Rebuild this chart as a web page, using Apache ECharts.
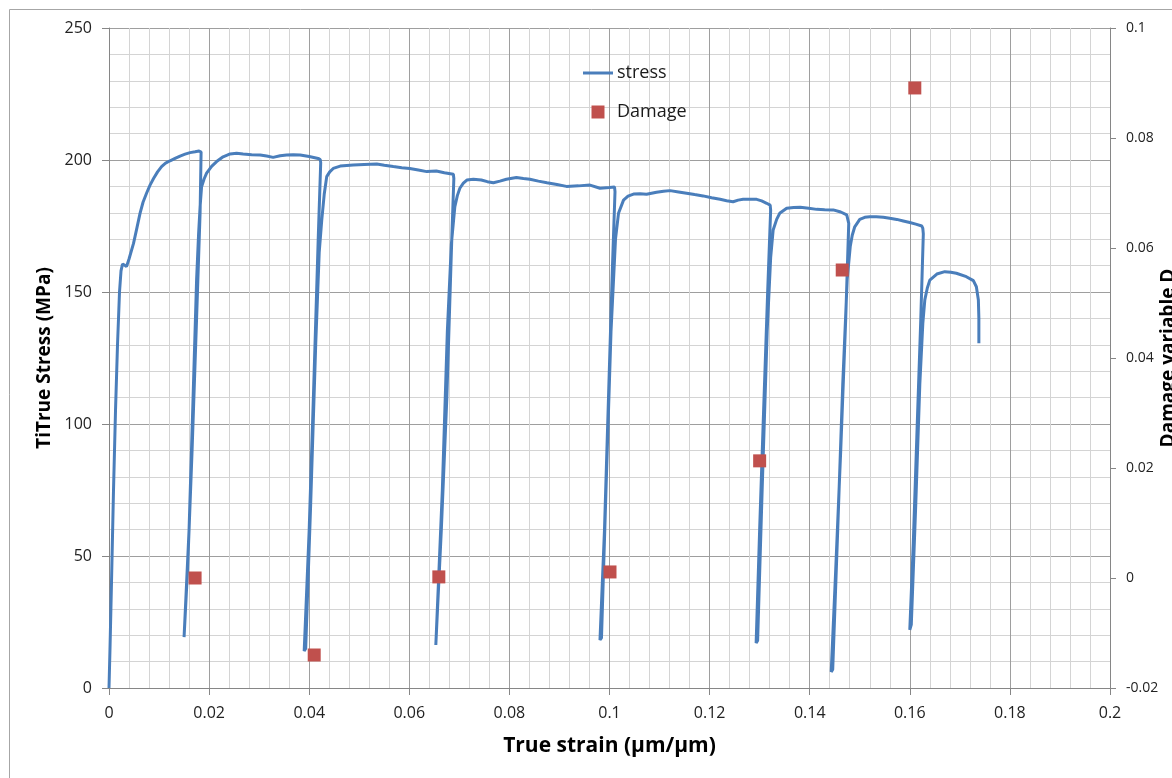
<!DOCTYPE html>
<html>
<head>
<meta charset="utf-8">
<script src="https://cdn.jsdelivr.net/npm/echarts@6/dist/echarts.min.js"></script>
<style>
html,body{margin:0;padding:0;background:#fff;}
#chart{width:1172px;height:778px;}
</style>
</head>
<body>
<div id="chart"></div>
<script>
// ---- data ----
const stressStrain = [
  0,0.0002,0.0005,0.0009,0.0013,0.0017,0.0021,0.0024,0.0027,0.0031,0.0035,0.0040,0.0049,0.0056,0.0062,0.0068,0.0075,0.0082,0.0089,0.0097,0.0105,0.0113,0.0122,0.0132,0.0142,0.0152,0.0162,0.0172,0.0180,0.0183,
  0.0184,0.0182,0.0175,0.0166,0.0157,0.0150,
  0.0153,0.0160,0.0168,0.0175,0.0179,0.0182,0.0185,0.0190,0.0195,0.0205,0.0215,0.0228,0.0242,0.0255,0.0268,0.0285,0.0302,0.0315,0.0328,0.0342,0.0355,0.0368,0.0382,0.0400,0.0418,0.0422,
  0.0423,0.0418,0.0410,0.0400,0.0390,
  0.0393,0.0403,0.0413,0.0420,0.0425,0.0430,0.0435,0.0441,0.0448,0.0462,0.0488,0.0510,0.0535,0.0550,0.0568,0.0585,0.0601,0.0618,0.0635,0.0654,0.0670,0.0688,
  0.0689,0.0684,0.0675,0.0664,0.0653,
  0.0656,0.0666,0.0676,0.0684,0.0691,0.0696,0.0701,0.0708,0.0715,0.0728,0.0744,0.0756,0.0768,0.0781,0.0794,0.0814,0.0828,0.0841,0.0858,0.0875,0.0895,0.0914,0.0938,0.0961,0.0981,0.1000,0.1010,
  0.1011,0.1006,0.0998,0.0990,0.0981,
  0.0984,0.0993,0.1003,0.1012,0.1018,0.1028,0.1037,0.1048,0.1061,0.1074,0.1094,0.1108,0.1121,0.1138,0.1154,0.1170,0.1187,0.1204,0.1221,0.1234,0.1247,0.1257,0.1267,0.1281,0.1294,0.1304,0.1314,0.1321,
  0.1322,0.1316,0.1307,0.1300,0.1293,
  0.1296,0.1305,0.1315,0.1322,0.1327,0.1334,0.1340,0.1354,0.1368,0.1381,0.1398,0.1414,0.1430,0.1447,0.1462,0.1474,0.1477,
  0.1478,0.1472,0.1462,0.1452,0.1443,
  0.1446,0.1456,0.1466,0.1475,0.1481,0.1485,0.1490,0.1500,0.1510,0.1520,0.1533,0.1547,0.1560,0.1574,0.1587,0.1600,0.1612,0.1624,0.1626,
  0.1627,0.1622,0.1614,0.1607,0.1600,
  0.1603,0.1612,0.1620,0.1626,0.1630,0.1635,0.1640,0.1654,0.1670,0.1682,0.1693,0.1713,0.1727,0.1733,0.1737,0.1738,0.1738
];
const stressValues = [
  0,15,40,75,105,130,150,158,160.6,160.2,159.6,162.5,168.4,174.5,179.8,184,187.4,190.5,193,195.5,197.5,198.8,199.7,200.6,201.5,202.2,202.8,203.1,203.4,203.6,
  203,180,140,90,45,19.3,
  20,60,110,154.5,172,182.3,189.9,192.8,195,197.6,199.4,201.2,202.3,202.6,202.3,202,201.9,201.5,201,201.6,201.9,202,201.9,201.3,200.6,200.2,
  199,170,120,60,14,
  15,70,130,165,177,187,193.7,195.5,196.8,197.7,198.1,198.3,198.5,198,197.5,197.1,196.8,196.2,195.6,195.8,195.2,194.6,
  193,165,110,60,16.3,
  17,75,135,168,182.3,186.5,189.3,191.2,192.4,192.7,192.4,191.8,191.4,192,192.7,193.4,193,192.7,192,191.4,190.7,190,190.2,190.5,189.3,189.6,189.8,
  188,160,110,60,18.2,
  19,75,135,170,179.8,184.8,186.3,187.1,187.2,187,187.8,188.2,188.4,187.9,187.4,186.9,186.4,185.7,185.1,184.6,184.2,184.8,185.1,185.1,185.1,184.5,183.6,182.9,
  181,150,100,60,17,
  18,75,135,163,173.5,177.5,179.8,181.7,182,182.1,181.7,181.3,181.2,181.1,180.3,179.2,178.5,
  176,140,90,45,6.1,
  7,60,115,155,167.2,171.5,174.7,177.5,178.3,178.5,178.5,178.3,177.9,177.5,176.9,176.3,175.7,175,174.1,
  172,140,95,55,22,
  24,70,115,138,147,151.5,154.5,156.8,157.7,157.5,157.1,155.8,154.3,152,147,140,130.6
];
const damageStrain = [0.0172, 0.0410, 0.0659, 0.1001, 0.1300, 0.1465, 0.1610];
const damageValues = [0.0000, -0.0140, 0.0002, 0.0011, 0.0213, 0.0560, 0.0891];

const xTicks = {min: 0, max: 0.2, interval: 0.02};
const yLeftTicks = {min: 0, max: 250, interval: 50};
const yRightTicks = {min: -0.02, max: 0.1, interval: 0.02};

// ---- chart ----
const stressData = stressStrain.map((x, i) => [x, stressValues[i]]);
const damageData = damageStrain.map((x, i) => [x, damageValues[i]]);

const FONT = '"Open Sans", sans-serif';
const chart = echarts.init(document.getElementById('chart'));
chart.setOption({
  animation: false,
  backgroundColor: '#fff',
  textStyle: {fontFamily: FONT},
  graphic: [{
    type: 'rect', silent: true, z: -10,
    shape: {x: 9.5, y: 9.5, width: 1200, height: 1200},
    style: {fill: 'none', stroke: '#a6a6a6', lineWidth: 1}
  }],
  grid: {left: 109, right: 62, top: 28, bottom: 90, containLabel: false, outerBoundsMode: 'none'},
  legend: {
    orient: 'vertical',
    left: 583, top: 64,
    padding: 0,
    itemWidth: 30, itemHeight: 13, itemGap: 21,
    textStyle: {fontFamily: FONT, fontSize: 18, color: '#1a1a1a', padding: [0, 0, 0, -1]},
    data: [
      {name: 'stress', icon: 'path://M0 0H30V3H0Z'},
      {name: 'Damage', icon: 'path://M0 0H10V10H0Z'}
    ]
  },
  xAxis: {
    type: 'value',
    min: xTicks.min, max: xTicks.max, interval: xTicks.interval,
    name: 'True strain (μm/μm)',
    nameLocation: 'middle', nameGap: 48, nameMoveOverlap: false,
    nameTextStyle: {fontFamily: FONT, fontSize: 21, fontWeight: 'bold', color: '#000'},
    axisLine: {show: true, onZero: false, lineStyle: {color: '#868686', width: 1}},
    axisTick: {show: true, inside: false, length: 7, lineStyle: {color: '#868686'}},
    axisLabel: {margin: 17, fontSize: 16, color: '#222', fontFamily: FONT,
      formatter: v => String(parseFloat(v.toFixed(4)))},
    splitLine: {show: true, lineStyle: {color: '#9e9e9e', width: 1}},
    minorTick: {show: false, splitNumber: 5},
    minorSplitLine: {show: true, lineStyle: {color: '#d4d4d4', width: 1}}
  },
  yAxis: [{
    type: 'value', position: 'left',
    min: yLeftTicks.min, max: yLeftTicks.max, interval: yLeftTicks.interval,
    name: 'TiTrue Stress (MPa)',
    nameLocation: 'middle', nameGap: 55, nameMoveOverlap: false,
    nameTextStyle: {fontFamily: FONT, fontSize: 19, fontWeight: 'bold', color: '#000'},
    axisLine: {show: true, lineStyle: {color: '#868686', width: 1}},
    axisTick: {show: true, inside: false, length: 7, lineStyle: {color: '#868686'}},
    axisLabel: {margin: 17, fontSize: 16, color: '#222', fontFamily: FONT},
    splitLine: {show: true, lineStyle: {color: '#9e9e9e', width: 1}},
    minorTick: {show: false, splitNumber: 5},
    minorSplitLine: {show: true, lineStyle: {color: '#d4d4d4', width: 1}}
  }, {
    type: 'value', position: 'right',
    min: yRightTicks.min, max: yRightTicks.max, interval: yRightTicks.interval,
    name: 'Damage variable D',
    nameLocation: 'middle', nameGap: 49, nameMoveOverlap: false,
    nameTextStyle: {fontFamily: FONT, fontSize: 19, fontWeight: 'bold', color: '#000'},
    axisLine: {show: true, lineStyle: {color: '#868686', width: 1}},
    axisTick: {show: true, inside: false, length: 6, lineStyle: {color: '#868686'}},
    axisLabel: {margin: 16, fontSize: 14, color: '#222', fontFamily: FONT,
      formatter: v => String(parseFloat(v.toFixed(4)))},
    splitLine: {show: false}
  }],
  series: [{
    name: 'stress',
    type: 'line',
    yAxisIndex: 0,
    data: stressData,
    showSymbol: false, symbol: 'none',
    lineStyle: {color: '#4a7ebb', width: 3},
    itemStyle: {color: '#4a7ebb'},
    z: 3
  }, {
    name: 'Damage',
    type: 'scatter',
    yAxisIndex: 1,
    data: damageData,
    symbol: 'rect',
    symbolSize: 13,
    itemStyle: {color: '#c0504d', opacity: 1},
    z: 4
  }]
});
</script>
</body>
</html>
